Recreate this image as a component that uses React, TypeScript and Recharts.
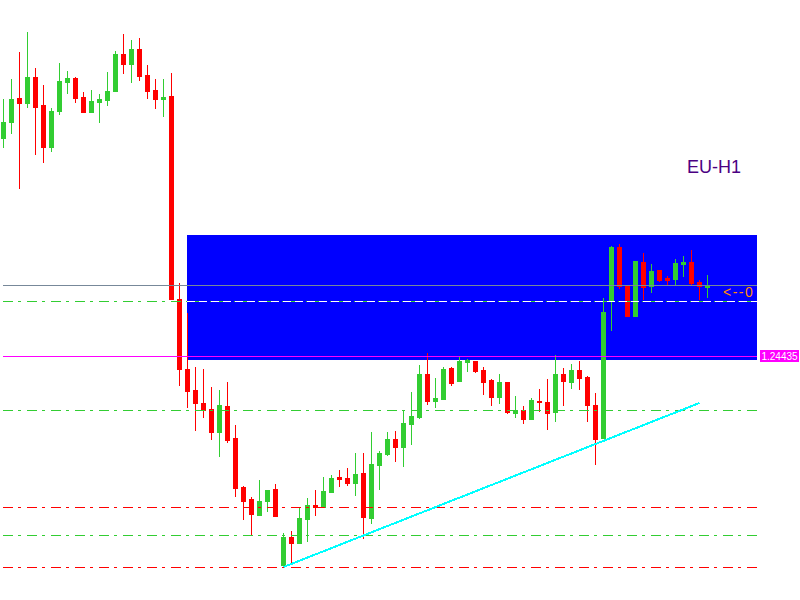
import { Bar, ComposedChart, ReferenceArea, ReferenceLine, XAxis, YAxis } from "recharts";

// H1 candles, oldest first
const opens = [
  1.24653, 1.24669, 1.24693, 1.24688, 1.24714, 1.24686, 1.24644, 1.2468, 1.24709, 1.24713,
  1.24694, 1.24679, 1.24689, 1.24691, 1.247, 1.24737, 1.24727, 1.24742, 1.24716, 1.24701,
  1.24692, 1.24695, 1.24492, 1.24422, 1.24401, 1.24388, 1.24382, 1.24359, 1.24385, 1.24353,
  1.24304, 1.24292, 1.24276, 1.2429, 1.24302, 1.24226, 1.24254, 1.24248, 1.24272, 1.24286,
  1.24284, 1.24299, 1.24314, 1.24313, 1.24308, 1.24318, 1.24273, 1.24326, 1.24337, 1.24352,
  1.24344, 1.24367, 1.24374, 1.24417, 1.2439, 1.24392, 1.24423, 1.2441, 1.24429, 1.2443,
  1.24421, 1.24411, 1.24394, 1.24409, 1.24378, 1.24381, 1.24372, 1.2439, 1.24389, 1.24379,
  1.24417, 1.24409, 1.24421, 1.24414, 1.24386, 1.24353, 1.24491, 1.24544, 1.24505, 1.24475,
  1.24529, 1.24505, 1.24521, 1.24513, 1.24512, 1.24527, 1.24529, 1.24509, 1.24504,
];
const highs = [
  1.24692, 1.24712, 1.24739, 1.24759, 1.24723, 1.24706, 1.24683, 1.24728, 1.2472, 1.24714,
  1.24699, 1.24701, 1.24697, 1.24719, 1.2474, 1.24757, 1.24751, 1.24753, 1.24726, 1.24712,
  1.24712, 1.24718, 1.24508, 1.24478, 1.24424, 1.24422, 1.24404, 1.24401, 1.24409, 1.24366,
  1.24305, 1.24294, 1.24311, 1.24301, 1.24307, 1.24258, 1.2426, 1.24284, 1.24293, 1.24301,
  1.24314, 1.24316, 1.24321, 1.24323, 1.24338, 1.24338, 1.24359, 1.2434, 1.24359, 1.2436,
  1.24381, 1.24399, 1.24426, 1.24438, 1.24413, 1.24424, 1.24424, 1.24434, 1.24432, 1.2443,
  1.24424, 1.24412, 1.24417, 1.24409, 1.24395, 1.24385, 1.24393, 1.24402, 1.24412, 1.24436,
  1.24423, 1.24427, 1.2443, 1.24415, 1.24398, 1.24493, 1.24545, 1.24547, 1.24506, 1.2453,
  1.24538, 1.24527, 1.24521, 1.24515, 1.24532, 1.24535, 1.24541, 1.24511, 1.24516,
];
const lows = [
  1.24644, 1.24658, 1.24603, 1.24684, 1.24637, 1.24629, 1.2464, 1.24677, 1.24698, 1.24689,
  1.24679, 1.24679, 1.24669, 1.24686, 1.247, 1.24718, 1.24709, 1.24711, 1.24693, 1.24683,
  1.24675, 1.24492, 1.24406, 1.24384, 1.24361, 1.24374, 1.24352, 1.24335, 1.24349, 1.24295,
  1.24272, 1.24257, 1.24276, 1.2428, 1.24275, 1.24224, 1.24229, 1.24248, 1.2425, 1.24276,
  1.24284, 1.24299, 1.24305, 1.24306, 1.24296, 1.24253, 1.24268, 1.24302, 1.24336, 1.2433,
  1.24325, 1.24347, 1.24373, 1.24387, 1.24384, 1.24392, 1.24406, 1.2441, 1.2442, 1.24419,
  1.24397, 1.24386, 1.24388, 1.24378, 1.24374, 1.24368, 1.24372, 1.2438, 1.24362, 1.2437,
  1.24386, 1.24403, 1.24402, 1.2437, 1.24327, 1.24353, 1.24461, 1.24503, 1.24475, 1.24475,
  1.24492, 1.24499, 1.2451, 1.24506, 1.24506, 1.24515, 1.24506, 1.24492, 1.24494,
];
const closes = [
  1.24669, 1.24692, 1.24688, 1.24714, 1.24684, 1.24644, 1.2468, 1.2471, 1.24713, 1.24693,
  1.24679, 1.2469, 1.24692, 1.247, 1.24737, 1.24727, 1.24742, 1.24715, 1.247, 1.24692,
  1.24694, 1.24492, 1.24422, 1.244, 1.24388, 1.24381, 1.24359, 1.24386, 1.24351, 1.24303,
  1.2429, 1.24277, 1.2429, 1.24301, 1.24275, 1.24254, 1.24248, 1.24273, 1.24286, 1.24284,
  1.243, 1.24313, 1.24312, 1.24308, 1.24317, 1.24274, 1.24327, 1.24338, 1.24352, 1.24344,
  1.24368, 1.24375, 1.24417, 1.2439, 1.24393, 1.24422, 1.24408, 1.2443, 1.24431, 1.2442,
  1.24409, 1.24394, 1.24409, 1.24379, 1.24381, 1.24372, 1.24391, 1.24389, 1.24378, 1.24417,
  1.2441, 1.24421, 1.24413, 1.24386, 1.24352, 1.24479, 1.24544, 1.24505, 1.24475, 1.2453,
  1.24504, 1.2452, 1.24511, 1.24511, 1.24528, 1.24529, 1.24508, 1.24505, 1.24505,
];

// horizontal levels
const greyLevel = 1.24506;
const priceLevel = 1.24435;
const greenLevels = [1.2449, 1.24381, 1.24256];
const redLevels = [1.24284, 1.24224];
const levelSpan = [-0.06, 94.19]; // in bar units
// zone rectangle
const zoneX = [22.94, 94.19];
const zoneY = [1.24431, 1.24556];
// trend line (bar index, price)
const trendX = [35, 87];
const trendY = [1.24224, 1.24388];

const BULL = "#32CD32";
const BEAR = "#FF0000";
const DASH_DOT = "10 5 3 6";

const candles = opens.map((open, i) => ({
  i,
  open,
  high: highs[i],
  low: lows[i],
  close: closes[i],
}));

function Candle(props: any) {
  const { x, y, width, height, payload } = props;
  if (x == null || y == null || !payload) return null;
  const { open, close, high, low } = payload;
  const span = high - low;
  const toY = (v: number) => (span > 0 ? y + ((high - v) / span) * height : y);
  const cx = x + width / 2;
  const top = Math.min(toY(open), toY(close));
  const bottom = Math.max(toY(open), toY(close));
  const color = close >= open ? BULL : BEAR;
  return (
    <g>
      <rect x={cx - 0.5} y={y} width={1} height={height + 1} fill={color} />
      <rect x={cx - 2.5} y={top} width={5} height={bottom - top + 1} fill={color} />
    </g>
  );
}

function PriceTag({ viewBox, text }: any) {
  if (!viewBox) return null;
  const left = viewBox.x + viewBox.width + 3;
  return (
    <g>
      <rect x={left} y={viewBox.y - 6} width={39} height={12} fill="#FF00FF" />
      <text
        x={left + 19.5}
        y={viewBox.y + 3.5}
        textAnchor="middle"
        fontSize={10}
        fontFamily="Arial, 'Liberation Sans', sans-serif"
        fill="#ffffff"
      >
        {text}
      </text>
    </g>
  );
}

const seg = (price: number, from = levelSpan[0], to = levelSpan[1]) => [
  { x: from, y: price },
  { x: to, y: price },
];

export default function App() {
  return (
    <div
      style={{
        position: "absolute",
        left: 0,
        top: 0,
        width: 800,
        height: 600,
        background: "#ffffff",
        shapeRendering: "crispEdges",
      }}
    >
      <ComposedChart width={800} height={600} data={candles} margin={{ top: 0, right: 0, bottom: 0, left: 0 }}>
        <XAxis
          dataKey="i"
          type="number"
          domain={[-0.4375, 99.5625]}
          allowDataOverflow
          hide
        />
        <YAxis type="number" domain={[1.24191, 1.24791]} allowDataOverflow hide />
        <ReferenceArea
          x1={zoneX[0]}
          x2={zoneX[1]}
          y1={zoneY[0]}
          y2={zoneY[1]}
          fill="#0000FF"
          fillOpacity={1}
          stroke="none"
          ifOverflow="visible"
        />
        <ReferenceLine segment={seg(greyLevel)} stroke="#778899" strokeWidth={1} ifOverflow="visible" />
        {greenLevels.map((p) => (
          <ReferenceLine
            key={`g${p}`}
            segment={seg(p)}
            stroke={BULL}
            strokeWidth={1}
            strokeDasharray={DASH_DOT}
            ifOverflow="visible"
          />
        ))}
        <ReferenceLine
          segment={seg(greenLevels[0], zoneX[0], zoneX[1])}
          stroke="#ffffff"
          strokeWidth={1}
          strokeDasharray="8 4"
          ifOverflow="visible"
        />
        {redLevels.map((p) => (
          <ReferenceLine
            key={`r${p}`}
            segment={seg(p)}
            stroke={BEAR}
            strokeWidth={1}
            strokeDasharray={DASH_DOT}
            ifOverflow="visible"
          />
        ))}
        <ReferenceLine
          segment={seg(priceLevel)}
          stroke="#FF00FF"
          strokeWidth={1}
          ifOverflow="visible"
          label={{ content: (p: any) => <PriceTag viewBox={p.viewBox} text={priceLevel.toFixed(5)} /> }}
        />
        <ReferenceLine
          segment={[
            { x: trendX[0], y: trendY[0] },
            { x: trendX[1], y: trendY[1] },
          ]}
          stroke="#00FFFF"
          strokeWidth={2}
          ifOverflow="visible"
        />
        <Bar
          dataKey={(d: any) => [d.low, d.high]}
          barSize={8}
          shape={Candle}
          isAnimationActive={false}
        />
      </ComposedChart>
      <div
        style={{
          position: "absolute",
          left: 687,
          top: 157,
          fontFamily: "Arial, 'Liberation Sans', sans-serif",
          fontSize: 18,
          lineHeight: "20px",
          color: "#4B0082",
        }}
      >
        EU-H1
      </div>
      <div
        style={{
          position: "absolute",
          left: 723,
          top: 284,
          whiteSpace: "nowrap",
          fontFamily: "Arial, 'Liberation Sans', sans-serif",
          fontSize: 14,
          letterSpacing: 1.5,
          lineHeight: "16px",
          color: "#FF8C00",
        }}
      >
        {"<--0"}
      </div>
    </div>
  );
}
